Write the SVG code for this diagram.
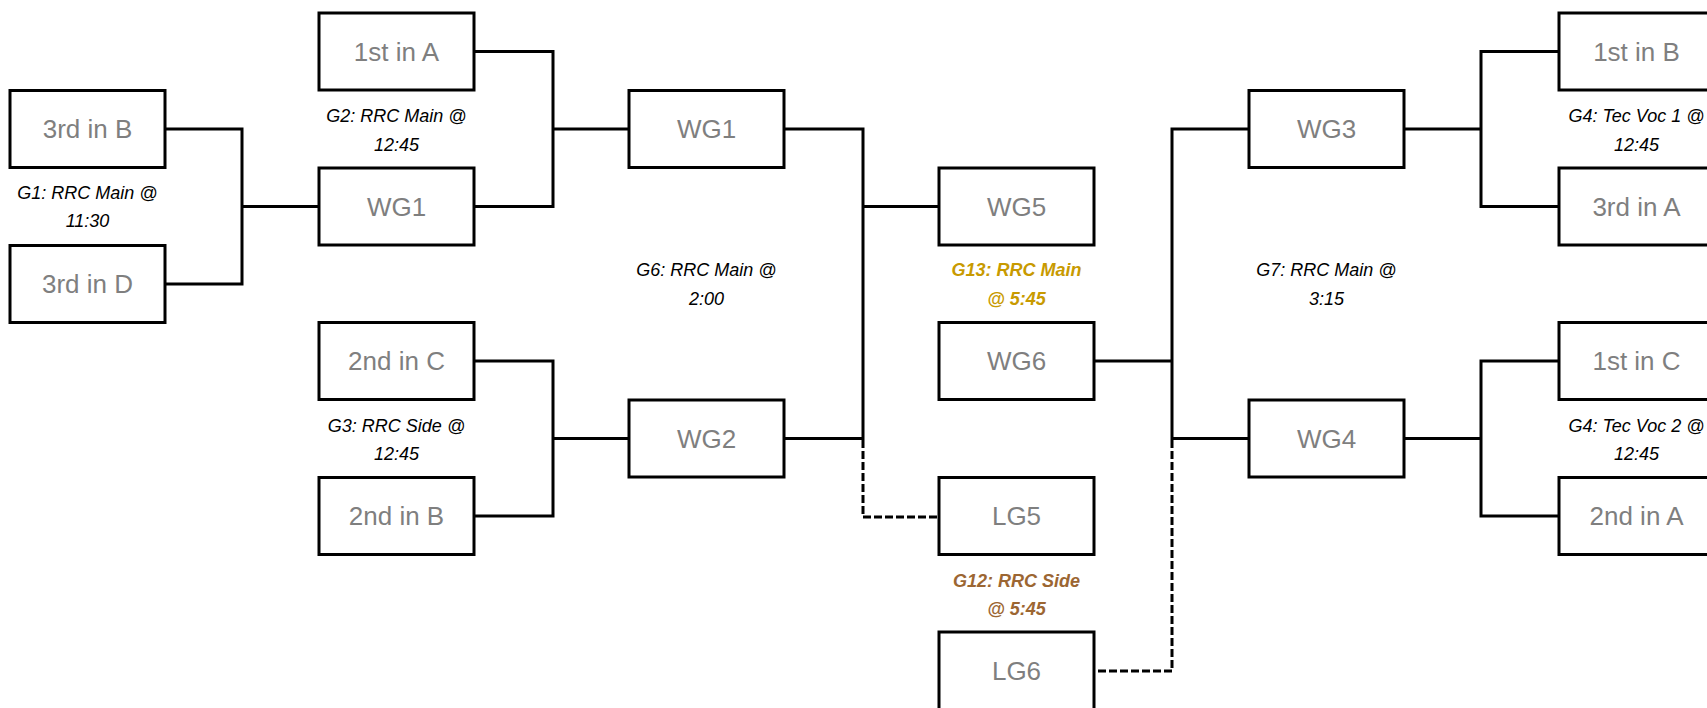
<svg xmlns="http://www.w3.org/2000/svg" width="1707" height="708" viewBox="0 0 1707 708">
<style>
.box{fill:#fff;stroke:#000;stroke-width:3}
.nt{font-family:"Liberation Sans",Arial,sans-serif;font-size:26px;fill:#7f7f7f;text-anchor:middle}
.lb{font-family:"Liberation Sans",Arial,sans-serif;font-size:18px;font-style:italic;fill:#000;text-anchor:middle}
.gold{fill:#c89a00;font-weight:bold}
.brown{fill:#9c6632;font-weight:bold}
.ln{fill:none;stroke:#000;stroke-width:3}
.dash{fill:none;stroke:#000;stroke-width:3;stroke-dasharray:8 3}
</style>
<rect width="1707" height="708" fill="#fff"/>
<g id="connectors">
<path class="ln" d="M165,129H242V284H165M242,206.5H319"/>
<path class="ln" d="M474,51.5H553V206.5H474M553,129H629"/>
<path class="ln" d="M474,361H553V516H474M553,438.5H629"/>
<path class="ln" d="M784,129H863V438.5H784M863,206.5H939"/>
<path class="dash" d="M863,440V517H939"/>
<path class="ln" d="M1094,361H1172M1249,129H1172V438.5H1249"/>
<path class="dash" d="M1172,440V671H1096"/>
<path class="ln" d="M1403,129H1481M1559,51.5H1481V206.5H1559"/>
<path class="ln" d="M1403,438.5H1481M1559,361H1481V516H1559"/>
</g>
<g id="n-3rdB"><rect class="box" x="10" y="90.5" width="155" height="77"/><text class="nt" x="87.5" y="138">3rd in B</text></g>
<g id="n-3rdD"><rect class="box" x="10" y="245.5" width="155" height="77"/><text class="nt" x="87.5" y="293">3rd in D</text></g>
<g id="n-1stA"><rect class="box" x="319" y="13" width="155" height="77"/><text class="nt" x="396.5" y="60.5">1st in A</text></g>
<g id="n-WG1a"><rect class="box" x="319" y="168" width="155" height="77"/><text class="nt" x="396.5" y="215.5">WG1</text></g>
<g id="n-2ndC"><rect class="box" x="319" y="322.5" width="155" height="77"/><text class="nt" x="396.5" y="370">2nd in C</text></g>
<g id="n-2ndB"><rect class="box" x="319" y="477.5" width="155" height="77"/><text class="nt" x="396.5" y="525">2nd in B</text></g>
<g id="n-WG1b"><rect class="box" x="629" y="90.5" width="155" height="77"/><text class="nt" x="706.5" y="138">WG1</text></g>
<g id="n-WG2"><rect class="box" x="629" y="400" width="155" height="77"/><text class="nt" x="706.5" y="447.5">WG2</text></g>
<g id="n-WG5"><rect class="box" x="939" y="168" width="155" height="77"/><text class="nt" x="1016.5" y="215.5">WG5</text></g>
<g id="n-WG6"><rect class="box" x="939" y="322.5" width="155" height="77"/><text class="nt" x="1016.5" y="370">WG6</text></g>
<g id="n-LG5"><rect class="box" x="939" y="477.5" width="155" height="77"/><text class="nt" x="1016.5" y="525">LG5</text></g>
<g id="n-LG6"><rect class="box" x="939" y="632" width="155" height="80"/><text class="nt" x="1016.5" y="679.5">LG6</text></g>
<g id="n-WG3"><rect class="box" x="1249" y="90.5" width="155" height="77"/><text class="nt" x="1326.5" y="138">WG3</text></g>
<g id="n-WG4"><rect class="box" x="1249" y="400" width="155" height="77"/><text class="nt" x="1326.5" y="447.5">WG4</text></g>
<g id="n-1stB"><rect class="box" x="1559" y="13" width="155" height="77"/><text class="nt" x="1636.5" y="60.5">1st in B</text></g>
<g id="n-3rdA"><rect class="box" x="1559" y="168" width="155" height="77"/><text class="nt" x="1636.5" y="215.5">3rd in A</text></g>
<g id="n-1stC"><rect class="box" x="1559" y="322.5" width="155" height="77"/><text class="nt" x="1636.5" y="370">1st in C</text></g>
<g id="n-2ndA"><rect class="box" x="1559" y="477.5" width="155" height="77"/><text class="nt" x="1636.5" y="525">2nd in A</text></g>
<g id="labels">
<text class="lb" x="87.5" y="198.5">G1: RRC Main @</text><text class="lb" x="87.5" y="226.5">11:30</text>
<text class="lb" x="396.5" y="121.5">G2: RRC Main @</text><text class="lb" x="396.5" y="150.5">12:45</text>
<text class="lb" x="396.5" y="431.5">G3: RRC Side @</text><text class="lb" x="396.5" y="459.5">12:45</text>
<text class="lb" x="706.5" y="275.5">G6: RRC Main @</text><text class="lb" x="706.5" y="304.5">2:00</text>
<text class="lb gold" x="1016.5" y="275.5">G13: RRC Main</text><text class="lb gold" x="1016.5" y="304.5">@ 5:45</text>
<text class="lb brown" x="1016.5" y="586.5">G12: RRC Side</text><text class="lb brown" x="1016.5" y="614.5">@ 5:45</text>
<text class="lb" x="1326.5" y="275.5">G7: RRC Main @</text><text class="lb" x="1326.5" y="304.5">3:15</text>
<text class="lb" x="1636.5" y="121.5">G4: Tec Voc 1 @</text><text class="lb" x="1636.5" y="150.5">12:45</text>
<text class="lb" x="1636.5" y="431.5">G4: Tec Voc 2 @</text><text class="lb" x="1636.5" y="459.5">12:45</text>
</g>
</svg>
